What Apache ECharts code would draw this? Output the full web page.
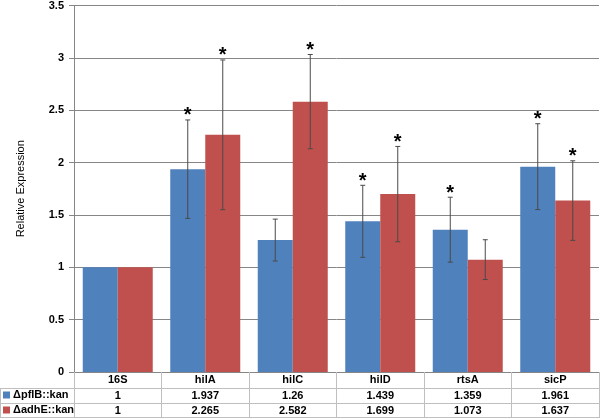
<!DOCTYPE html>
<html>
<head>
<meta charset="utf-8">
<script src="https://cdn.jsdelivr.net/npm/echarts@6/dist/echarts.min.js"></script>
<style>
  html, body { margin: 0; padding: 0; background: #fff; }
  #chart { width: 600px; height: 420px; }
</style>
</head>
<body>
<div id="chart"></div>
<script>
var genes = ['16S', 'hilA', 'hilC', 'hilD', 'rtsA', 'sicP'];
var seriesNames = ['\u0394pflB::kan', '\u0394adhE::kan'];
var pflB = [1, 1.937, 1.26, 1.439, 1.359, 1.961];
var adhE = [1, 2.265, 2.582, 1.699, 1.073, 1.637];
var pflBErr = [0, 0.47, 0.2, 0.344, 0.31, 0.41];
var adhEErr = [0, 0.715, 0.45, 0.455, 0.19, 0.38];
// 1 = significant (asterisk)
var pflBStar = [0, 1, 0, 1, 1, 1];
var adhEStar = [0, 1, 1, 1, 0, 1];
var yTicks = [0, 0.5, 1, 1.5, 2, 2.5, 3, 3.5];

var font = 'Liberation Sans, Arial, sans-serif';
var blue = '#4F81BD';
var red = '#C0504D';

var chart = echarts.init(document.getElementById('chart'));

function errData(vals, errs, stars) {
  return vals.map(function (v, i) { return [i, v, errs[i], stars[i]]; });
}

function errSeries(name, vals, errs, stars, side) {
  return {
    name: name + ' err',
    type: 'custom',
    z: 5,
    silent: true,
    encode: { x: 0, y: 1 },
    data: errData(vals, errs, stars),
    renderItem: function (params, api) {
      var i = api.value(0), v = api.value(1), e = api.value(2), s = api.value(3);
      var band = api.size([1, 0])[0];
      var c = api.coord([i, v]);
      var x = c[0] + side * band * 0.2;
      var top = api.coord([i, v + e])[1];
      var bot = api.coord([i, v - e])[1];
      var kids = [];
      if (e > 0) {
        var st = { stroke: '#4a4a4a', lineWidth: 1 };
        kids.push({ type: 'line', shape: { x1: x, y1: top, x2: x, y2: bot }, style: st });
        kids.push({ type: 'line', shape: { x1: x - 2.5, y1: top, x2: x + 2.5, y2: top }, style: st });
        kids.push({ type: 'line', shape: { x1: x - 2.5, y1: bot, x2: x + 2.5, y2: bot }, style: st });
      }
      if (s) {
        kids.push({
          type: 'text',
          style: {
            text: '*', x: x, y: top + 6,
            fontSize: 20, fontWeight: 'bold', fontFamily: font,
            textAlign: 'center', textVerticalAlign: 'bottom', fill: '#000'
          }
        });
      }
      return { type: 'group', children: kids };
    }
  };
}

var tableLine = { stroke: '#BFBFBF', lineWidth: 1 };

var option = {
  animation: false,
  grid: { left: 74, right: 1, top: 5, bottom: 48 },
  legend: {
    data: seriesNames,
    orient: 'vertical',
    left: 3,
    top: 389,
    padding: 0,
    itemWidth: 7,
    itemHeight: 7,
    itemGap: 3,
    icon: 'rect',
    selectedMode: false,
    textStyle: { fontFamily: font, fontSize: 11, fontWeight: 'bold', color: '#000', lineHeight: 12, padding: [0, 0, 0, -2] }
  },
  xAxis: {
    type: 'category',
    data: genes,
    axisLine: { lineStyle: { color: '#868686' } },
    axisTick: { show: true, length: 45, lineStyle: { color: '#BFBFBF' } },
    axisLabel: {
      margin: 0,
      interval: 0,
      formatter: function (val, i) {
        return '{h|' + val + '}\n{v|' + pflB[i] + '}\n{v|' + adhE[i] + '}';
      },
      rich: {
        h: { fontFamily: font, fontSize: 11, fontWeight: 'bold', color: '#000', lineHeight: 16 },
        v: { fontFamily: font, fontSize: 11, fontWeight: 'bold', color: '#000', lineHeight: 15 }
      }
    }
  },
  yAxis: {
    type: 'value',
    min: yTicks[0],
    max: yTicks[yTicks.length - 1],
    interval: 0.5,
    name: 'Relative Expression',
    nameLocation: 'middle',
    nameRotate: 90,
    nameGap: 48,
    nameTextStyle: { fontFamily: font, fontSize: 11, color: '#000' },
    axisLine: { show: true, lineStyle: { color: '#868686' } },
    axisTick: { show: true, length: 5, lineStyle: { color: '#868686' } },
    axisLabel: { fontFamily: font, fontSize: 11, fontWeight: 'bold', color: '#000', margin: 10 },
    splitLine: { lineStyle: { color: '#868686' } }
  },
  graphic: [
    { type: 'line', shape: { x1: 0, y1: 388.5, x2: 600, y2: 388.5 }, style: tableLine },
    { type: 'line', shape: { x1: 0, y1: 403.5, x2: 600, y2: 403.5 }, style: tableLine },
    { type: 'line', shape: { x1: 0, y1: 417.5, x2: 600, y2: 417.5 }, style: tableLine },
    { type: 'line', shape: { x1: 0.5, y1: 388, x2: 0.5, y2: 418 }, style: tableLine }
  ],
  series: [
    {
      name: seriesNames[0],
      type: 'bar',
      data: pflB,
      barGap: '0%',
      barCategoryGap: '20%',
      itemStyle: { color: blue }
    },
    {
      name: seriesNames[1],
      type: 'bar',
      data: adhE,
      barGap: '0%',
      barCategoryGap: '20%',
      itemStyle: { color: red }
    },
    errSeries(seriesNames[0], pflB, pflBErr, pflBStar, -1),
    errSeries(seriesNames[1], adhE, adhEErr, adhEStar, 1)
  ]
};

chart.setOption(option);
</script>
</body>
</html>
